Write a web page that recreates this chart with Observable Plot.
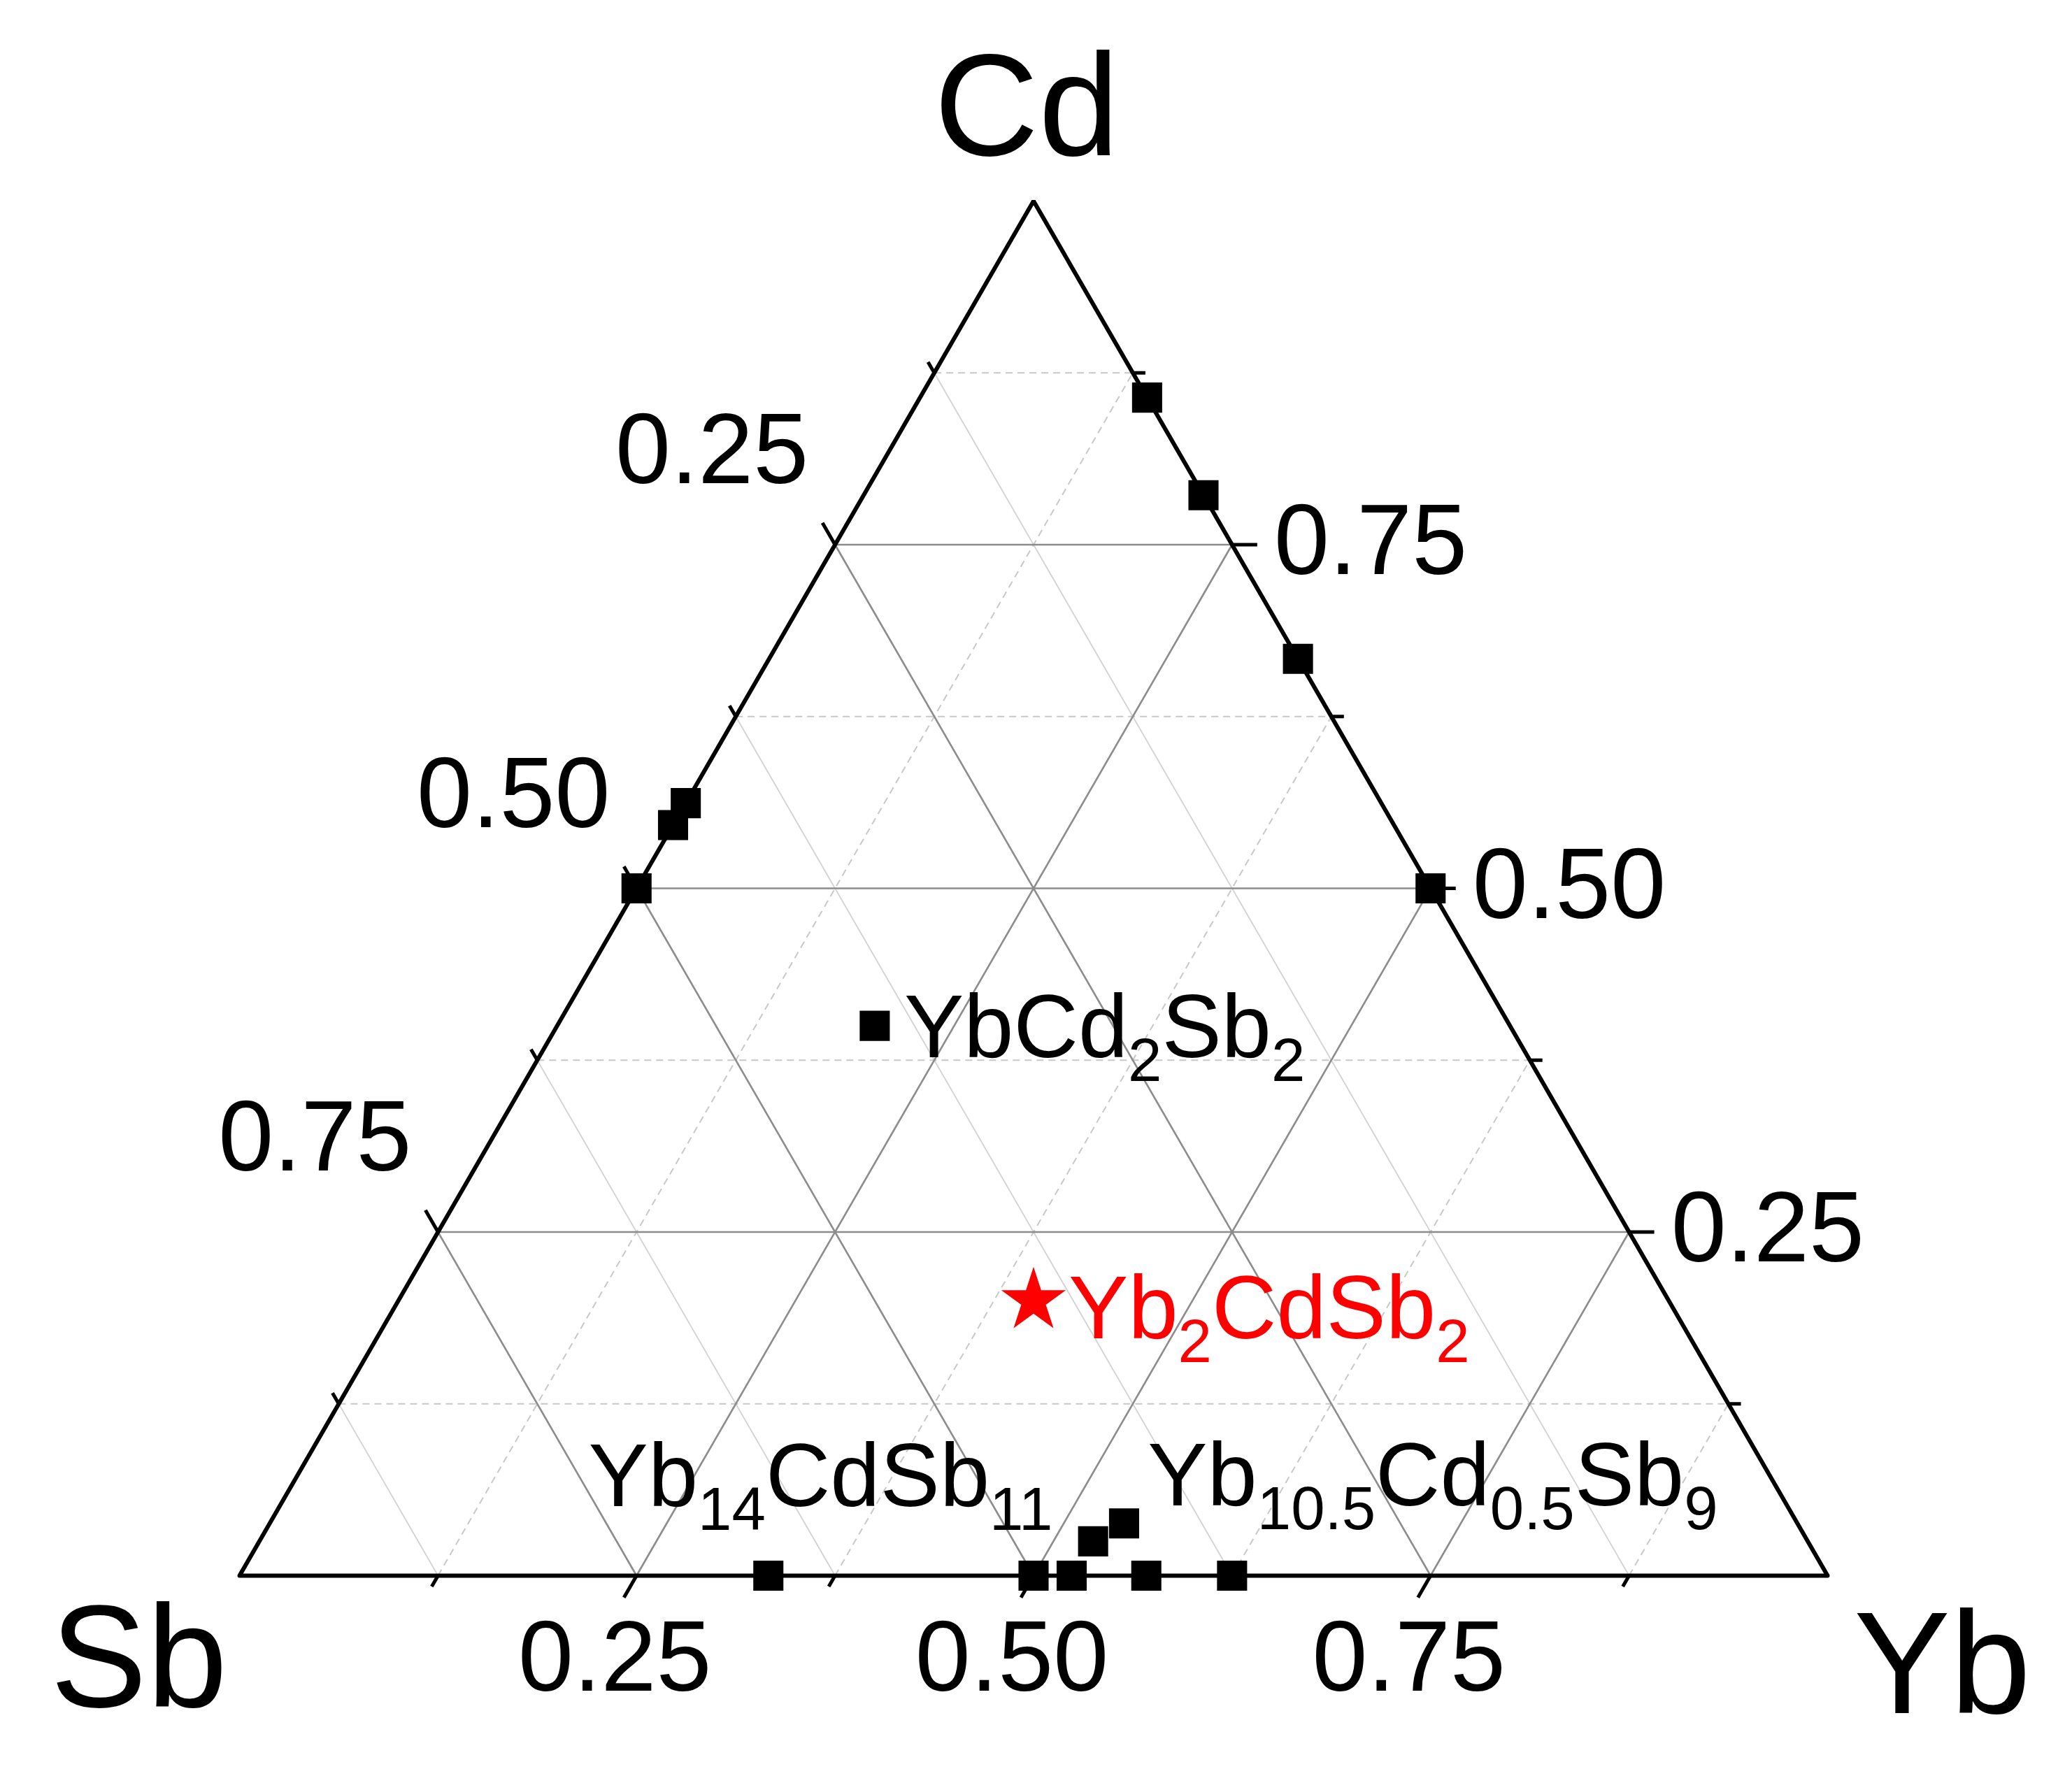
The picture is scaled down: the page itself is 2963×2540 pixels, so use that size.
<!DOCTYPE html>
<html>
<head>
<meta charset="utf-8">
<script src="https://cdn.jsdelivr.net/npm/d3@7"></script>
<script src="https://cdn.jsdelivr.net/npm/@observablehq/plot@0.6"></script>
<style>
  html, body { margin: 0; padding: 0; background: #fff; }
  svg { display: block; }
</style>
</head>
<body>
<div id="chart"></div>
<script>
// ---------------- data ----------------
const vertexNames = ["Sb", "Yb", "Cd"];
const majorTicks = [0.25, 0.5, 0.75];
const minorTicks = [0.125, 0.375, 0.625, 0.875];
const tickLabels = ["0.25", "0.50", "0.75"];

// phases plotted as black squares: mole fraction of Yb and Cd (Sb is the remainder)
const phaseYb = [0.143, 0.214, 0.333, 0.5, 0, 0, 0, 0.333, 0.5, 0.524, 0.571, 0.625, 0.525, 0.538, 0.2];
const phaseCd = [0.857, 0.786, 0.667, 0.5, 0.5, 0.546, 0.562, 0, 0, 0, 0, 0, 0.025, 0.038, 0.4];
const phaseLabel = ["", "", "", "", "", "", "", "", "", "", "", "",
  "Yb_{10.5}Cd_{0.5}Sb_9", "Yb_{14}CdSb_{11}", "YbCd_2Sb_2"];

// target compound (red star)
const targetLabel = ["Yb_2CdSb_2"];
const targetYb = [0.4];
const targetCd = [0.2];

// ---------------- helpers ----------------
const S3 = Math.sqrt(3) / 2;
const W = 2963, H = 2540;
const mL = 342, mR = 350, mT = 287, mB = 287;
const unitPx = W - mL - mR; // pixels per composition unit
const tx = d => d.yb + d.cd / 2;
const ty = d => d.cd * S3;

const phases = phaseYb.map((yb, i) => ({yb, cd: phaseCd[i], label: phaseLabel[i]}));
const target = targetYb.map((yb, i) => ({yb, cd: targetCd[i], label: targetLabel[i]}));
const vertices = [{yb: 0, cd: 0, name: vertexNames[0]}, {yb: 1, cd: 0, name: vertexNames[1]}, {yb: 0, cd: 1, name: vertexNames[2]}];
const frame = [vertices[0], vertices[1], vertices[2], vertices[0], vertices[1]];

// grid lines in composition space
function gridSeg(kind, v) {
  let a, b;
  if (kind === "Cd") { a = {yb: 0, cd: v}; b = {yb: 1 - v, cd: v}; }
  else if (kind === "Yb") { a = {yb: v, cd: 0}; b = {yb: v, cd: 1 - v}; }
  else { a = {yb: 1 - v, cd: 0}; b = {yb: 0, cd: 1 - v}; }
  return {x1: tx(a), y1: ty(a), x2: tx(b), y2: ty(b)};
}
const majorGrid = ["Cd", "Yb", "Sb"].flatMap(k => majorTicks.map(v => gridSeg(k, v)));
const minorGridSb = minorTicks.map(v => gridSeg("Sb", v));
const minorGridDash = ["Cd", "Yb"].flatMap(k => minorTicks.map(v => gridSeg(k, v)));

// tick anchor points and outward directions
function axisPoint(kind, v) {
  if (kind === "Yb") return {p: {yb: v, cd: 0}, dir: [-0.5, -S3]};
  if (kind === "Cd") return {p: {yb: 1 - v, cd: v}, dir: [1, 0]};
  return {p: {yb: 0, cd: 1 - v}, dir: [-0.5, S3]};
}
function tickSeg(kind, v, lenPx) {
  const {p, dir} = axisPoint(kind, v);
  const L = lenPx / unitPx;
  return {x1: tx(p), y1: ty(p), x2: tx(p) + dir[0] * L, y2: ty(p) + dir[1] * L};
}
const ticks = [
  ...["Yb", "Cd", "Sb"].flatMap(k => majorTicks.map(v => tickSeg(k, v, 36))),
  ...["Yb", "Cd", "Sb"].flatMap(k => minorTicks.map(v => tickSeg(k, v, 18)))
];
const tickText = kind => majorTicks.map((v, i) => {
  const {p} = axisPoint(kind, v);
  return {x: tx(p), y: ty(p), text: tickLabels[i]};
});

// ---------------- plot ----------------
const FONT = "'Liberation Sans', Arial, Helvetica, sans-serif";
const FS_FORMULA = 128;

const chart = Plot.plot({
  width: W,
  height: H,
  marginLeft: mL, marginRight: mR, marginTop: mT, marginBottom: mB,
  x: {domain: [0, 1], axis: null},
  y: {domain: [0, S3], axis: null},
  style: {fontFamily: FONT, background: "#fff", overflow: "visible"},
  marks: [
    Plot.link(minorGridSb, {x1: "x1", y1: "y1", x2: "x2", y2: "y2", stroke: "#d2d2d2", strokeWidth: 1.8}),
    Plot.link(minorGridDash, {x1: "x1", y1: "y1", x2: "x2", y2: "y2", stroke: "#c8c8c8", strokeWidth: 2, strokeDasharray: "10,7"}),
    Plot.link(majorGrid, {x1: "x1", y1: "y1", x2: "x2", y2: "y2", stroke: "#8c8c8c", strokeWidth: 2.6}),
    Plot.line(frame, {x: tx, y: ty, stroke: "#000", strokeWidth: 6, strokeLinejoin: "miter"}),
    Plot.link(ticks, {x1: "x1", y1: "y1", x2: "x2", y2: "y2", stroke: "#000", strokeWidth: 5}),
    // tick labels
    Plot.text(tickText("Yb"), {x: "x", y: "y", text: "text", fontSize: 142, textAnchor: "middle", lineAnchor: "middle", dx: -31, dy: 119}),
    Plot.text(tickText("Cd"), {x: "x", y: "y", text: "text", fontSize: 142, textAnchor: "start", lineAnchor: "middle", dx: 60, dy: -3}),
    Plot.text(tickText("Sb"), {x: "x", y: "y", text: "text", fontSize: 142, textAnchor: "middle", lineAnchor: "middle", dx: -176, dy: -133}),
    // vertex labels
    Plot.text([vertices[2]], {x: tx, y: ty, text: "name", fontSize: 207, textAnchor: "middle", lineAnchor: "bottom", dx: -10, dy: -66}),
    Plot.text([vertices[0]], {x: tx, y: ty, text: "name", fontSize: 207, textAnchor: "middle", lineAnchor: "bottom", dx: -144, dy: 187}),
    Plot.text([vertices[1]], {x: tx, y: ty, text: "name", fontSize: 207, textAnchor: "middle", lineAnchor: "bottom", dx: 164, dy: 196}),
    // points
    Plot.dot(phases, {x: tx, y: ty, symbol: "square", r: 24.3, fill: "#000"}),
    Plot.dot(target, {x: tx, y: ty, symbol: "star", r: 29, fill: "#ff0000"}),
    // compound labels
    Plot.text(phases.filter(d => d.label === "YbCd_2Sb_2"), {x: tx, y: ty, text: "label", fontSize: FS_FORMULA, textAnchor: "start", lineAnchor: "bottom", dx: 42, dy: 45}),
    Plot.text(phases.filter(d => d.label === "Yb_{14}CdSb_{11}"), {x: tx, y: ty, text: "label", fontSize: FS_FORMULA, textAnchor: "end", lineAnchor: "bottom", dx: -102, dy: -25}),
    Plot.text(phases.filter(d => d.label === "Yb_{10.5}Cd_{0.5}Sb_9"), {x: tx, y: ty, text: "label", fontSize: FS_FORMULA, textAnchor: "start", lineAnchor: "bottom", dx: 78, dy: -51}),
    Plot.text(target, {x: tx, y: ty, text: "label", fontSize: FS_FORMULA, fill: "#ff0000", textAnchor: "start", lineAnchor: "bottom", dx: 50, dy: 54})
  ]
});

// turn "_x" / "_{xx}" markers into real subscript tspans
const SUB_SCALE = 0.68, SUB_SHIFT = 34;
chart.querySelectorAll("text").forEach(t => {
  const src = t.textContent;
  if (!src || src.indexOf("_") < 0) return;
  while (t.firstChild) t.removeChild(t.firstChild);
  const re = /_\{([^}]*)\}|_(.)|([^_]+)/g;
  let m, shifted = false;
  while ((m = re.exec(src))) {
    const ts = document.createElementNS("http://www.w3.org/2000/svg", "tspan");
    if (m[3] !== undefined) {
      ts.textContent = m[3];
      if (shifted) { ts.setAttribute("dy", -SUB_SHIFT); shifted = false; }
    } else {
      ts.textContent = m[1] !== undefined ? m[1] : m[2];
      ts.setAttribute("font-size", FS_FORMULA * SUB_SCALE);
      if (!shifted) { ts.setAttribute("dy", SUB_SHIFT); shifted = true; }
    }
    t.appendChild(ts);
  }
});

document.getElementById("chart").appendChild(chart);
</script>
</body>
</html>
